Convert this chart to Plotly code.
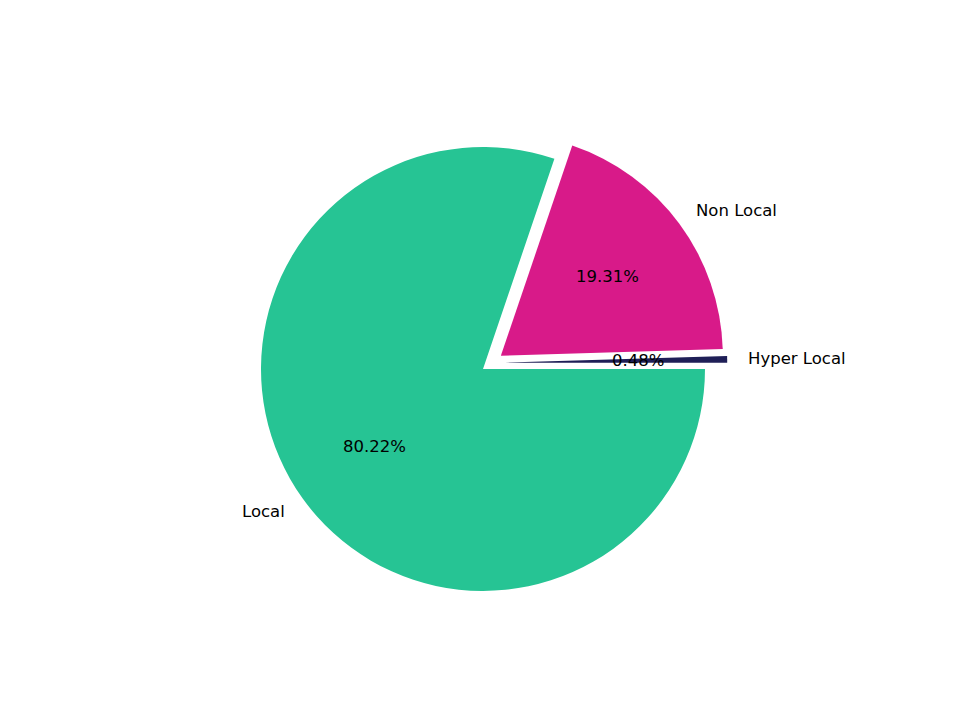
"""Pie chart of customer locality share, matplotlib-style exploded wedges."""
import math

import plotly.graph_objects as go

LABELS = ['Hyper Local', 'Non Local', 'Local']
VALUES = [0.48, 19.31, 80.22]
EXPLODE = [0.1, 0.1, 0.0]
COLORS = ['#1f1f57', '#d81a89', '#26c494']
CLEAR = 'rgba(0,0,0,0)'

W, H = 960, 720
PAGE_OFF = 8           # the html body margin pushes the figure 8px right/down
CX, CY = 483, 369      # pie centre in pixels (page coords, from top-left)
R = 222                # pie radius in pixels
HYPER_DY = 6           # the thin wedge sits a few px higher in the reference
FONT = dict(family='DejaVu Sans', size=16.5, color='black')


def to_paper(px, py):
    return (px - PAGE_OFF) / W, 1 - (py - PAGE_OFF) / H


def domain(cx, cy, half):
    x0, y1 = to_paper(cx - half, cy - half)
    x1, y0 = to_paper(cx + half, cy + half)
    return dict(x=[x0, x1], y=[y0, y1])


def main():
    half = R * (1 + max(EXPLODE))
    # matplotlib order is counterclockwise from 3 o'clock; plotly gets it
    # reversed and drawn clockwise from 3 o'clock, which is the same layout
    common = dict(labels=LABELS[::-1], values=VALUES[::-1], pull=EXPLODE[::-1],
                  sort=False, direction='clockwise', rotation=90,
                  textinfo='none', hoverinfo='label+percent', showlegend=False)

    fig = go.Figure()
    main_colors = [CLEAR] + COLORS[1:]
    fig.add_trace(go.Pie(marker=dict(colors=main_colors[::-1], line=dict(width=0)),
                         domain=domain(CX, CY, half), **common))
    hyper_colors = [COLORS[0], CLEAR, CLEAR]
    fig.add_trace(go.Pie(marker=dict(colors=hyper_colors[::-1], line=dict(width=0)),
                         domain=domain(CX, CY - HYPER_DY, half), **common))

    # labels at 1.1 r and percentages at 0.6 r from the (exploded) wedge centre
    total = sum(VALUES)
    start = 0.0
    annotations = []
    for label, val, exp in zip(LABELS, VALUES, EXPLODE):
        span = 360.0 * val / total
        mid = math.radians(start + span / 2)
        start += span
        c, s = math.cos(mid), math.sin(mid)
        cy = CY - HYPER_DY if label == 'Hyper Local' else CY
        lx, ly = to_paper(CX + (1.1 + exp) * R * c, cy - (1.1 + exp) * R * s)
        annotations.append(dict(
            x=lx, y=ly, xref='paper', yref='paper', text=label,
            showarrow=False, font=FONT, borderpad=0,
            xshift=-2 if c > 0 else 2,
            xanchor='left' if c > 0 else 'right', yanchor='middle'))
        px_, py_ = to_paper(CX + (0.6 + exp) * R * c, cy - (0.6 + exp) * R * s)
        annotations.append(dict(
            x=px_, y=py_, xref='paper', yref='paper', text=f'{val:.2f}%',
            showarrow=False, font=FONT, xanchor='center', yanchor='middle'))

    fig.update_layout(
        width=W, height=H, margin=dict(l=0, r=0, t=0, b=0),
        paper_bgcolor='white', plot_bgcolor='white',
        annotations=annotations)
    fig.write_html('out.html')


if __name__ == '__main__':
    main()
